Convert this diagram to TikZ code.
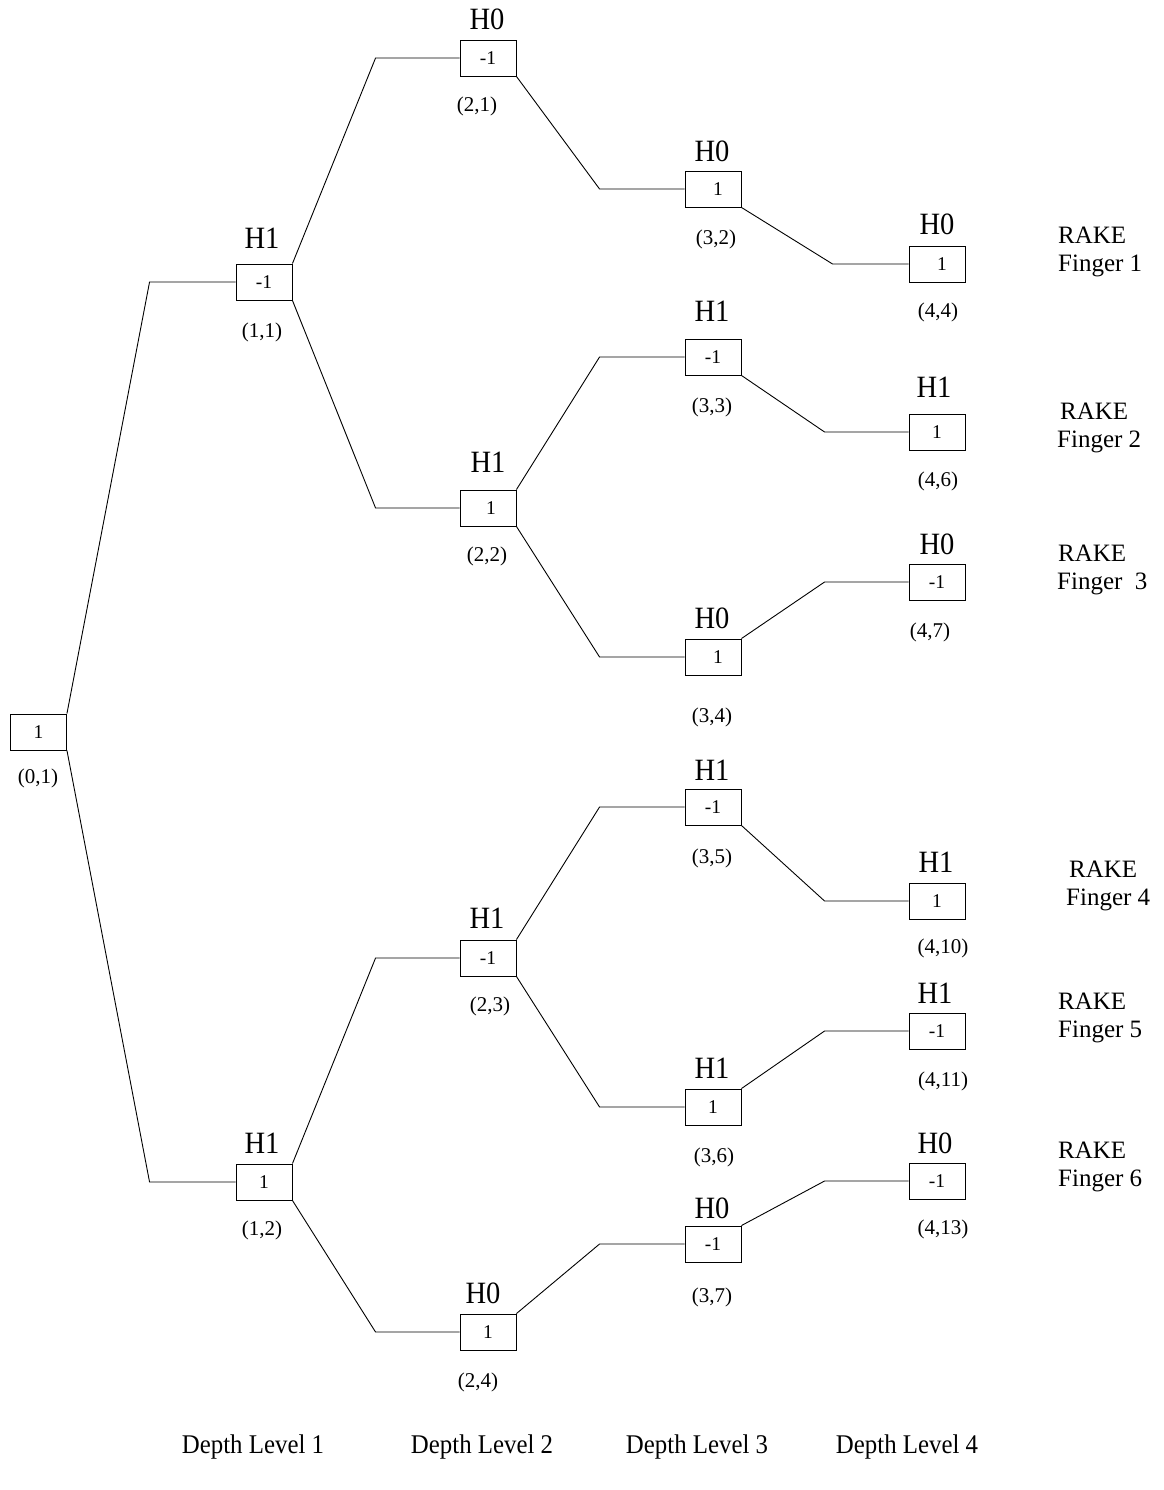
\documentclass[tikz,border=0pt]{standalone}
\usepackage{fontspec}
\setmainfont{Liberation Serif}
\newfontfamily\hfont{Liberation Serif}[FakeStretch=0.92]
\begin{document}
\begin{tikzpicture}[x=1pt,y=-1pt,
  bx/.style={draw,line width=0.9pt,minimum width=56pt,minimum height=36pt,inner sep=0pt,font=\fontsize{19.5}{22}\selectfont},
  hl/.style={inner sep=0pt,font=\hfont\fontsize{31}{34}\selectfont},
  cl/.style={inner sep=0pt,font=\fontsize{21}{24}\selectfont},
  rk/.style={inner sep=0pt,anchor=west,align=left,font=\fontsize{25}{28}\selectfont},
  dl/.style={inner sep=0pt,font=\hfont\fontsize{27}{30}\selectfont},
  ln/.style={line width=0.9pt}]
\useasboundingbox (0,0) rectangle (1163,1490);
% boxes
\node[bx] (n01) at (38.5,732) {1};
\node[bx] (n11) at (264,282) {-1};
\node[bx] (n12) at (264,1182) {1};
\node[bx] (n21) at (488,58) {-1};
\node[bx] (n22) at (488,508) {\hspace*{6pt}1};
\node[bx] (n23) at (488,958) {-1};
\node[bx] (n24) at (488,1332) {1};
\node[bx] (n32) at (713,189) {\hspace*{10pt}1};
\node[bx] (n33) at (713,357) {-1};
\node[bx] (n34) at (713,657) {\hspace*{10pt}1};
\node[bx] (n35) at (713,807) {-1};
\node[bx] (n36) at (713,1107) {1};
\node[bx] (n37) at (713,1244) {-1};
\node[bx] (n44) at (937,264) {\hspace*{10pt}1};
\node[bx] (n46) at (937,432) {1};
\node[bx] (n47) at (937,582) {-1};
\node[bx] (n410) at (937,901) {1};
\node[bx] (n411) at (937,1031) {-1};
\node[bx] (n413) at (937,1181) {-1};
% H labels
\node[hl] (h11) at (262,238) {H1};
\node[hl] (h12) at (262,1143) {H1};
\node[hl] (h21) at (487,19) {H0};
\node[hl] (h22) at (488,462) {H1};
\node[hl] (h23) at (487,918) {H1};
\node[hl] (h24) at (483,1293) {H0};
\node[hl] (h32) at (712,151) {H0};
\node[hl] (h33) at (712,311) {H1};
\node[hl] (h34) at (712,618) {H0};
\node[hl] (h35) at (712,770) {H1};
\node[hl] (h36) at (712,1068) {H1};
\node[hl] (h37) at (712,1208) {H0};
\node[hl] (h44) at (937,224) {H0};
\node[hl] (h46) at (934,387) {H1};
\node[hl] (h47) at (937,544) {H0};
\node[hl] (h410) at (936,862) {H1};
\node[hl] (h411) at (935,993) {H1};
\node[hl] (h413) at (935,1143) {H0};
% coordinate labels
\node[cl] (c01) at (38,778) {(0,1)};
\node[cl] (c11) at (262,332) {(1,1)};
\node[cl] (c12) at (262,1230) {(1,2)};
\node[cl] (c21) at (477,106) {(2,1)};
\node[cl] (c22) at (487,556) {(2,2)};
\node[cl] (c23) at (490,1006) {(2,3)};
\node[cl] (c24) at (478,1382) {(2,4)};
\node[cl] (c32) at (716,239) {(3,2)};
\node[cl] (c33) at (712,407) {(3,3)};
\node[cl] (c34) at (712,717) {(3,4)};
\node[cl] (c35) at (712,858) {(3,5)};
\node[cl] (c36) at (714,1157) {(3,6)};
\node[cl] (c37) at (712,1297) {(3,7)};
\node[cl] (c44) at (938,312) {(4,4)};
\node[cl] (c46) at (938,481) {(4,6)};
\node[cl] (c47) at (930,632) {(4,7)};
\node[cl] (c410) at (943,948) {(4,10)};
\node[cl] (c411) at (943,1081) {(4,11)};
\node[cl] (c413) at (943,1229) {(4,13)};
% RAKE labels
\node[rk] (r1) at (1058,252) {RAKE\\Finger 1};
\node[rk] (r2) at (1057,428) {\hspace*{3pt}RAKE\\Finger 2};
\node[rk] (r3) at (1057,570) {\hspace*{1pt}RAKE\\Finger~ 3};
\node[rk] (r4) at (1066,886) {\hspace*{3pt}RAKE\\Finger 4};
\node[rk] (r5) at (1058,1018) {RAKE\\Finger 5};
\node[rk] (r6) at (1058,1167) {RAKE\\Finger 6};
% depth levels
\node[dl] (d1) at (253,1447) {Depth Level 1};
\node[dl] (d2) at (482,1447) {Depth Level 2};
\node[dl] (d3) at (697,1447) {Depth Level 3};
\node[dl] (d4) at (907,1447) {Depth Level 4};
% connectors
\draw[ln] (n01.north east) -- ([xshift=-86pt]n11.west) -- (n11.west);
\draw[ln] (n01.south east) -- ([xshift=-86pt]n12.west) -- (n12.west);
\draw[ln] (n11.north east) -- ([xshift=-84pt]n21.west) -- (n21.west);
\draw[ln] (n11.south east) -- ([xshift=-84pt]n22.west) -- (n22.west);
\draw[ln] (n12.north east) -- ([xshift=-84pt]n23.west) -- (n23.west);
\draw[ln] (n12.south east) -- ([xshift=-84pt]n24.west) -- (n24.west);
\draw[ln] (n21.south east) -- ([xshift=-85pt]n32.west) -- (n32.west);
\draw[ln] (n22.north east) -- ([xshift=-85pt]n33.west) -- (n33.west);
\draw[ln] (n22.south east) -- ([xshift=-85pt]n34.west) -- (n34.west);
\draw[ln] (n23.north east) -- ([xshift=-85pt]n35.west) -- (n35.west);
\draw[ln] (n23.south east) -- ([xshift=-85pt]n36.west) -- (n36.west);
\draw[ln] (n24.north east) -- ([xshift=-85pt]n37.west) -- (n37.west);
\draw[ln] (n32.south east) -- ([xshift=-76pt]n44.west) -- (n44.west);
\draw[ln] (n33.south east) -- ([xshift=-84pt]n46.west) -- (n46.west);
\draw[ln] (n34.north east) -- ([xshift=-84pt]n47.west) -- (n47.west);
\draw[ln] (n35.south east) -- ([xshift=-84pt]n410.west) -- (n410.west);
\draw[ln] (n36.north east) -- ([xshift=-84pt]n411.west) -- (n411.west);
\draw[ln] (n37.north east) -- ([xshift=-84pt]n413.west) -- (n413.west);
\end{tikzpicture}
\end{document}
